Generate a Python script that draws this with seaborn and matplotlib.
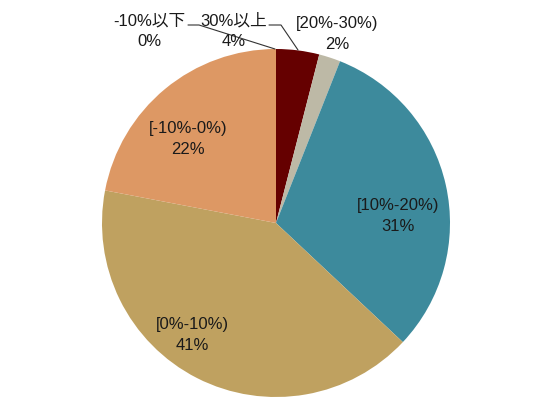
import matplotlib
matplotlib.use("Agg")
import matplotlib.pyplot as plt
import seaborn as sns

# Data (clockwise from 12 o'clock)
categories = ["-10%以下", "30%以上", "[20%-30%)", "[10%-20%)", "[0%-10%)", "[-10%-0%)"]
shares = [0, 4, 2, 31, 41, 22]
colors = ["#4A6FA5", "#650000", "#BDB9A6", "#3D8A9C", "#BFA160", "#DD9864"]

sns.set_theme(style="white")
plt.rcParams["font.family"] = ["Liberation Sans", "Noto Sans CJK JP", "DejaVu Sans"]

fig = plt.figure(figsize=(5.5, 4.13), dpi=100)
ax = fig.add_axes([0, 0, 1, 1])

cx, cy, r = 276, 413 - 223, 174
wedges, _ = ax.pie(shares, colors=colors, startangle=90, counterclock=False,
                   center=(cx, cy), radius=r, frame=True,
                   wedgeprops=dict(linewidth=0))
ax.set_xlim(0, 550)
ax.set_ylim(0, 413)
ax.set_aspect("equal")
ax.axis("off")

fs = 12
txt = dict(ha="center", va="center", fontsize=fs, color="#1a1a1a", linespacing=1.45)

# inside labels
inside_pos = {"[10%-20%)": (398, 413 - 216), "[0%-10%)": (192, 413 - 335),
              "[-10%-0%)": (188, 413 - 139)}
for cat, val in zip(categories, shares):
    if cat in inside_pos:
        x, y = inside_pos[cat]
        ax.text(x, y, f"{cat}\n{val}%", **txt)

# outside labels
ax.text(149, 413 - 31, f"{categories[0]}\n{shares[0]}%", **txt)
ax.text(234, 413 - 31, f"{categories[1]}\n{shares[1]}%", **txt)
ax.text(337, 413 - 34, f"{categories[2]}\n{shares[2]}%", **txt)

# leader lines
ax.plot([188, 199, 275], [413 - 25, 413 - 25, 413 - 49], color="#333333", lw=0.8)
ax.plot([269, 281, 298], [413 - 25, 413 - 25, 413 - 50], color="#333333", lw=0.8)

fig.savefig("out.png", dpi=100)
